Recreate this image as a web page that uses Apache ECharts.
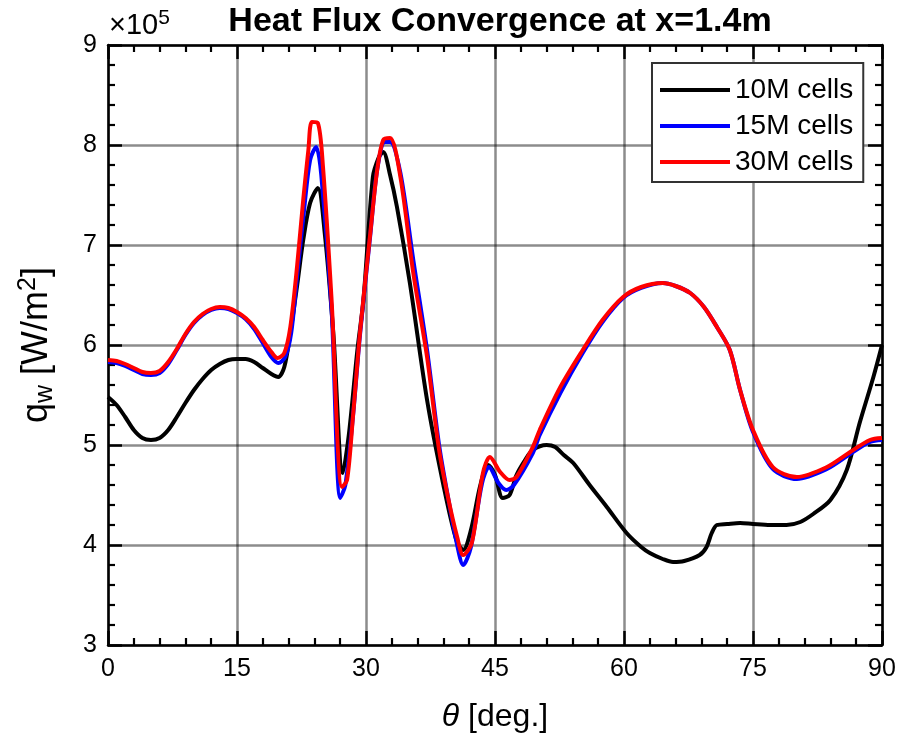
<!DOCTYPE html>
<html>
<head>
<meta charset="utf-8">
<title>Heat Flux Convergence at x=1.4m</title>
<script src="https://cdn.jsdelivr.net/npm/echarts@6/dist/echarts.min.js"></script>
<style>
  html, body { margin: 0; padding: 0; background: #fff; }
  #chart { width: 903px; height: 742px; }
</style>
</head>
<body>
<div id="chart"></div>
<script>
// Wall heat flux q_w (in units of 1e5 W/m^2) against circumferential angle theta (deg)
// for three mesh resolutions.
const theta10M = [0, 1, 2, 3, 4, 5, 6, 7, 8, 9, 10, 11, 12, 13, 14, 15, 16, 17, 18, 19, 19.8, 20.5, 21.2, 22, 22.7, 23.5, 24.4, 25.2, 26.2, 27.3, 28, 29, 29.7, 30.8, 31.5, 32, 32.8, 33.6, 35.1, 37.1, 39, 40.5, 41.3, 42.2, 43.3, 44.2, 45, 45.9, 46.7, 47.5, 48.5, 49.4, 51, 52, 53, 54.1, 56, 58, 60.3, 62, 63, 64.5, 65.7, 67, 68.8, 69.6, 70.2, 70.8, 72, 73.5, 75, 77, 78.9, 80.5, 82, 84, 85.9, 87.4, 89, 90];
const q10M = [5.48, 5.40, 5.28, 5.15, 5.07, 5.05, 5.07, 5.15, 5.28, 5.42, 5.55, 5.66, 5.75, 5.81, 5.85, 5.86, 5.86, 5.83, 5.77, 5.71, 5.68, 5.78, 6.12, 6.60, 7.05, 7.42, 7.57, 7.12, 6.12, 4.72, 5.10, 5.95, 6.45, 7.68, 7.88, 7.93, 7.70, 7.38, 6.62, 5.45, 4.60, 4.05, 3.95, 4.15, 4.60, 4.80, 4.70, 4.47, 4.50, 4.70, 4.85, 4.95, 5.00, 4.98, 4.90, 4.82, 4.60, 4.38, 4.12, 3.98, 3.92, 3.86, 3.83, 3.84, 3.90, 3.98, 4.12, 4.20, 4.21, 4.22, 4.21, 4.20, 4.20, 4.23, 4.31, 4.45, 4.75, 5.22, 5.68, 6.00];

const theta15M = [0, 1, 2, 3, 4, 5, 6, 7, 8, 9, 10, 11, 12, 13, 14, 15, 16, 17, 18, 19, 19.8, 20.6, 21.3, 22, 22.8, 23.5, 24.2, 24.8, 26, 27, 27.6, 28.5, 29.3, 30.5, 31.3, 32.2, 32.8, 34, 35.5, 37.1, 38.5, 39.6, 40.6, 41.3, 42.2, 43.5, 44.3, 45.4, 46.3, 47.2, 49.4, 50.2, 52.6, 55.2, 57.5, 59.9, 62, 64.5, 66, 67.7, 69.3, 70.8, 72.3, 73.5, 75, 77.3, 80.1, 83.6, 86.3, 88.6, 90];
const q15M = [5.83, 5.82, 5.79, 5.75, 5.71, 5.70, 5.72, 5.81, 5.95, 6.10, 6.22, 6.30, 6.35, 6.37, 6.36, 6.32, 6.26, 6.16, 6.02, 5.88, 5.82, 5.88, 6.12, 6.70, 7.35, 7.85, 7.98, 7.70, 6.35, 4.47, 4.60, 5.30, 6.10, 7.10, 7.75, 8.03, 8.03, 7.72, 6.85, 5.95, 5.00, 4.45, 4.00, 3.80, 3.98, 4.62, 4.78, 4.62, 4.55, 4.60, 4.92, 5.10, 5.52, 5.92, 6.23, 6.47, 6.57, 6.62, 6.59, 6.52, 6.38, 6.18, 5.95, 5.55, 5.13, 4.76, 4.66, 4.76, 4.91, 5.03, 5.05];

const theta30M = [0, 1, 2, 3, 4, 5, 6, 7, 8, 9, 10, 11, 12, 13, 14, 15, 16, 17, 18, 19, 19.7, 20.5, 21.2, 22, 22.7, 23.3, 23.7, 24.4, 25, 26, 27.2, 27.8, 28.5, 29.3, 30.5, 31.3, 32, 32.8, 34, 35.5, 37.1, 38.5, 39.6, 40.6, 41.3, 42.3, 43.6, 44.4, 45.6, 46.7, 47.5, 49.4, 50.2, 52.6, 55.2, 57.5, 59.9, 62, 64.5, 66, 67.7, 69.3, 70.8, 72.3, 73.5, 75, 77.3, 80.1, 83.6, 86.3, 88.6, 90];
const q30M = [5.85, 5.84, 5.81, 5.77, 5.73, 5.72, 5.74, 5.83, 5.96, 6.11, 6.23, 6.31, 6.36, 6.38, 6.37, 6.33, 6.27, 6.18, 6.05, 5.93, 5.87, 5.92, 6.18, 6.80, 7.45, 7.95, 8.23, 8.22, 7.78, 6.45, 4.58, 4.65, 5.30, 6.12, 7.12, 7.75, 8.05, 8.07, 7.68, 6.72, 5.88, 4.95, 4.45, 4.08, 3.90, 4.02, 4.72, 4.88, 4.73, 4.65, 4.68, 4.98, 5.15, 5.58, 5.95, 6.25, 6.48, 6.58, 6.62, 6.59, 6.52, 6.38, 6.18, 5.95, 5.55, 5.15, 4.78, 4.68, 4.78, 4.93, 5.05, 5.07];

const seriesNames = ['10M cells', '15M cells', '30M cells'];
const seriesColors = ['#000000', '#0000ff', '#ff0000'];

const thetaTicks = [0, 15, 30, 45, 60, 75, 90];
const qTicks = [3, 4, 5, 6, 7, 8, 9];

function pairs(xs, ys) {
  return xs.map((x, i) => [x, ys[i]]);
}

const FONT = '"Liberation Sans", Arial, Helvetica, sans-serif';
const gridLine = { show: true, lineStyle: { color: 'rgba(0,0,0,0.45)', width: 2.5 } };
const axisLine = { show: true, onZero: false, lineStyle: { color: '#000', width: 2.5 } };
const majorTick = { show: true, inside: true, length: 14, lineStyle: { color: '#000', width: 2.5 } };
const minorTick = { show: true, splitNumber: 5, length: 7, lineStyle: { color: '#000', width: 2.2 } };

const xBase = {
  type: 'value',
  min: thetaTicks[0],
  max: thetaTicks[thetaTicks.length - 1],
  interval: thetaTicks[1] - thetaTicks[0],
  axisLine: axisLine,
  axisTick: majorTick,
  minorTick: minorTick
};
const yBase = {
  type: 'value',
  min: qTicks[0],
  max: qTicks[qTicks.length - 1],
  interval: qTicks[1] - qTicks[0],
  axisLine: axisLine,
  axisTick: majorTick,
  minorTick: minorTick
};

const chart = echarts.init(document.getElementById('chart'), null, { renderer: 'canvas' });

chart.setOption({
  backgroundColor: '#ffffff',
  animation: false,
  textStyle: { fontFamily: FONT },
  title: {
    text: 'Heat Flux Convergence at x=1.4m',
    left: 495,
    top: 0,
    textAlign: 'center',
    textStyle: { fontFamily: FONT, fontWeight: 'bold', fontSize: 34, color: '#000' }
  },
  grid: { left: 108, right: 21, top: 45, bottom: 97, containLabel: false },
  legend: {
    data: seriesNames,
    orient: 'vertical',
    left: 652,
    top: 63,
    icon: 'rect',
    itemWidth: 70,
    itemHeight: 4,
    itemGap: 6,
    padding: [12, 10, 5, 8],
    borderColor: '#333',
    borderWidth: 2,
    backgroundColor: '#ffffff',
    textStyle: { fontFamily: FONT, fontSize: 28, color: '#000', lineHeight: 30 }
  },
  xAxis: [
    Object.assign({}, xBase, {
      position: 'bottom',
      name: '{th|θ}{n| [deg.]}',
      nameLocation: 'middle',
      nameGap: 56,
      nameTextStyle: {
        rich: {
          th: { fontFamily: FONT, fontStyle: 'italic', fontSize: 32, color: '#000' },
          n: { fontFamily: FONT, fontSize: 32, color: '#000' }
        }
      },
      axisLabel: { show: true, margin: 12, fontSize: 25, color: '#000', fontFamily: FONT },
      splitLine: gridLine
    }),
    Object.assign({}, xBase, {
      position: 'top',
      axisLabel: { show: false },
      splitLine: { show: false }
    })
  ],
  yAxis: [
    Object.assign({}, yBase, {
      position: 'left',
      name: '{n|q}{sub|w}{n| [W/m}{sup|2}{n|]}',
      nameLocation: 'middle',
      nameRotate: 90,
      nameGap: 50,
      nameTextStyle: {
        rich: {
          n: { fontFamily: FONT, fontSize: 36, color: '#000' },
          sub: { fontFamily: FONT, fontSize: 25, color: '#000', padding: [17, 0, 0, 0] },
          sup: { fontFamily: FONT, fontSize: 25, color: '#000', padding: [0, 0, 17, 0] }
        }
      },
      axisLabel: { show: true, margin: 11, fontSize: 25, color: '#000', fontFamily: FONT },
      splitLine: gridLine
    }),
    Object.assign({}, yBase, {
      position: 'right',
      axisLabel: { show: false },
      splitLine: { show: false }
    })
  ],
  graphic: [
    {
      type: 'text',
      left: 109,
      top: 8,
      style: {
        text: '{m|×10}{e|5}',
        rich: {
          m: { fontFamily: FONT, fontSize: 29, fill: '#000' },
          e: { fontFamily: FONT, fontSize: 21, fill: '#000', padding: [0, 0, 15, 0] }
        }
      }
    }
  ],
  series: [
    {
      name: seriesNames[0], type: 'line', data: pairs(theta10M, q10M),
      xAxisIndex: 0, yAxisIndex: 0, smooth: 0.3, showSymbol: false, z: 3,
      lineStyle: { color: seriesColors[0], width: 4 }, itemStyle: { color: seriesColors[0] }
    },
    {
      name: seriesNames[1], type: 'line', data: pairs(theta15M, q15M),
      xAxisIndex: 0, yAxisIndex: 0, smooth: 0.3, showSymbol: false, z: 4,
      lineStyle: { color: seriesColors[1], width: 4 }, itemStyle: { color: seriesColors[1] }
    },
    {
      name: seriesNames[2], type: 'line', data: pairs(theta30M, q30M),
      xAxisIndex: 0, yAxisIndex: 0, smooth: 0.3, showSymbol: false, z: 5,
      lineStyle: { color: seriesColors[2], width: 4 }, itemStyle: { color: seriesColors[2] }
    }
  ]
});
</script>
</body>
</html>
